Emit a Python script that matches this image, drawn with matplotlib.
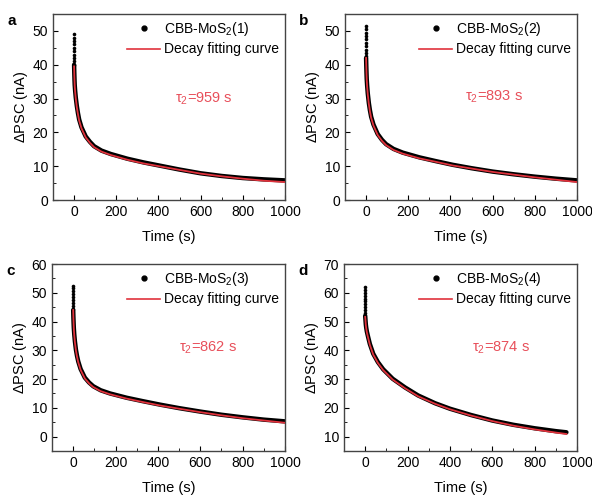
import matplotlib
matplotlib.use('Agg')
from matplotlib import pyplot as plt
from matplotlib.lines import Line2D
from matplotlib.ticker import MultipleLocator

plt.rcParams['font.family'] = ['Liberation Sans', 'DejaVu Sans']
plt.rcParams['font.size'] = 10
plt.rcParams['mathtext.fontset'] = 'custom'
plt.rcParams['mathtext.rm'] = 'Liberation Sans'
plt.rcParams['mathtext.it'] = 'Liberation Sans:italic'

t_a = [0, 1, 2, 3, 5, 8, 13, 18, 24, 35, 55, 75, 95, 130, 174, 253, 330, 411, 500, 600, 700, 800, 900, 1000]
psc_a = [40, 37.5, 35.5, 34, 32.3, 30.3, 27.8, 25.8, 23.8, 21.5, 18.8, 17.2, 15.9, 14.6, 13.6, 12.2, 11.1, 10.1, 9.0, 7.9, 7.1, 6.5, 6.1, 5.8]
t_b = [0, 1, 2, 3, 5, 8, 13, 18, 24, 35, 55, 75, 95, 130, 174, 253, 330, 411, 500, 600, 700, 800, 900, 1000]
psc_b = [42, 39.5, 37.5, 35.8, 33.8, 31.5, 28.7, 26.6, 24.6, 22.3, 19.5, 17.8, 16.5, 15.1, 14.0, 12.6, 11.5, 10.4, 9.4, 8.4, 7.6, 6.9, 6.3, 5.8]
t_c = [0, 1, 2, 3, 5, 8, 13, 18, 24, 35, 55, 75, 95, 130, 174, 253, 330, 411, 500, 600, 700, 800, 900, 1000]
psc_c = [44, 41.5, 39.5, 37.8, 35.6, 33.2, 30.2, 28.1, 26.1, 23.5, 20.5, 18.8, 17.5, 16.1, 15.0, 13.5, 12.3, 11.1, 9.9, 8.7, 7.6, 6.7, 5.9, 5.3]
t_d = [0, 1, 2, 3, 5, 8, 14, 22, 38, 60, 85, 130, 188, 250, 330, 400, 500, 600, 700, 800, 900, 950]
psc_d = [52, 51, 50, 49, 47.8, 46.5, 44.6, 42.2, 38.8, 35.9, 33.4, 30.1, 27.1, 24.3, 21.6, 19.7, 17.5, 15.6, 14.1, 12.9, 11.9, 11.5]

# dense column of points right at t = 0
spike_a = [49, 48, 47, 46, 45, 44, 43, 42, 41, 40]
spike_b = [51.5, 50.5, 49.5, 48.5, 47.5, 46.5, 45.5, 44.5, 43.5, 42.5]
spike_c = [52.5, 51.5, 50.5, 49.5, 48.5, 47.5, 46.5, 45.5, 44.5]
spike_d = [62, 61, 60, 59, 58, 57, 56, 55, 54, 53]

# fitted curves
fit_a = [39.5, 37, 35.2, 33.7, 32, 30, 27.4, 25.5, 23.5, 21.2, 18.5, 16.9, 15.6, 14.3, 13.3, 11.9, 10.8, 9.9, 8.9, 7.8, 7.0, 6.3, 5.7, 5.3]
fit_b = [42, 39.5, 37.3, 35.6, 33.5, 31.2, 28.4, 26.3, 24.3, 22, 19.2, 17.5, 16.2, 14.8, 13.7, 12.3, 11.3, 10.2, 9.3, 8.3, 7.5, 6.7, 6.0, 5.3]
fit_c = [44, 41.5, 39.3, 37.5, 35.3, 32.9, 29.9, 27.8, 25.8, 23.2, 20.2, 18.5, 17.2, 15.8, 14.7, 13.2, 12.0, 10.8, 9.7, 8.5, 7.4, 6.4, 5.6, 4.8]
fit_d = [51.6, 50.8, 49.8, 48.8, 47.6, 46.2, 44.3, 41.9, 38.5, 35.6, 33.1, 29.8, 26.8, 24.0, 21.4, 19.5, 17.3, 15.4, 13.8, 12.5, 11.4, 10.9]

panels = ['a', 'b', 'c', 'd']
labels = ['CBB-MoS$_2$(1)', 'CBB-MoS$_2$(2)', 'CBB-MoS$_2$(3)', 'CBB-MoS$_2$(4)']
tau_text = [r'$\mathregular{\tau_2}$=959 s', r'$\mathregular{\tau_2}$=893 s',
            r'$\mathregular{\tau_2}$=862 s', r'$\mathregular{\tau_2}$=874 s']
tau_pos = [(615, 30), (604, 30.5), (636, 31), (641, 41)]
ylims = [(0, 55), (0, 55), (-5, 60), (5, 70)]

times = [t_a, t_b, t_c, t_d]
data = [psc_a, psc_b, psc_c, psc_d]
spikes = [spike_a, spike_b, spike_c, spike_d]
fits = [fit_a, fit_b, fit_c, fit_d]

red = '#e0323c'
tau_red = '#e8505b'

fig = plt.figure(figsize=(5.92, 4.96), dpi=100)
boxes = [(53, 14, 285, 200), (345, 14, 577, 200), (52, 264, 285, 451), (344, 264, 577, 451)]
W, H = 592, 496

for i in range(4):
    x0, y0, x1, y1 = boxes[i]
    ax = fig.add_axes([x0 / W, 1 - y1 / H, (x1 - x0) / W, (y1 - y0) / H])
    ax.plot(times[i], data[i], color='black', lw=3.2, solid_capstyle='round',
            solid_joinstyle='round', zorder=2)
    ax.plot([0] * len(spikes[i]), spikes[i], 'o', color='black', ms=2.6, mew=0,
            zorder=2)
    ax.plot(times[i], fits[i], color=red, lw=1.3, zorder=3)
    ax.set_xlim(-100, 1000)
    ax.set_ylim(*ylims[i])
    ax.xaxis.set_major_locator(MultipleLocator(200))
    ax.xaxis.set_minor_locator(MultipleLocator(100))
    ax.yaxis.set_major_locator(MultipleLocator(10))
    ax.yaxis.set_minor_locator(MultipleLocator(5))
    ax.tick_params(which='both', direction='in', top=False, right=False, labelsize=10)
    ax.tick_params(which='major', length=3.5)
    ax.tick_params(which='minor', length=2)
    for s in ax.spines.values():
        s.set_color('#444444')
        s.set_linewidth(1.0)
    ax.set_xlabel('Time (s)', fontsize=10.5, labelpad=8)
    ax.set_ylabel(r'$\Delta$PSC (nA)', fontsize=10.5, labelpad=2)
    ax.text(tau_pos[i][0], tau_pos[i][1], tau_text[i], color=tau_red,
            ha='center', va='center', fontsize=10.5)
    handles = [Line2D([], [], ls='none', marker='o', color='black', ms=3.5),
               Line2D([], [], color=red, lw=1.2)]
    ax.legend(handles, [labels[i], 'Decay fitting curve'], loc='upper right',
              frameon=False, fontsize=10, handlelength=2.4, handletextpad=0.25,
              labelspacing=0.3, borderaxespad=0.05)
    fig.text((x0 - 46) / W, 1 - (y0 + 0) / H, panels[i], fontweight='bold',
             fontsize=11, ha='left', va='top')

plt.savefig('out.png', dpi=100)
